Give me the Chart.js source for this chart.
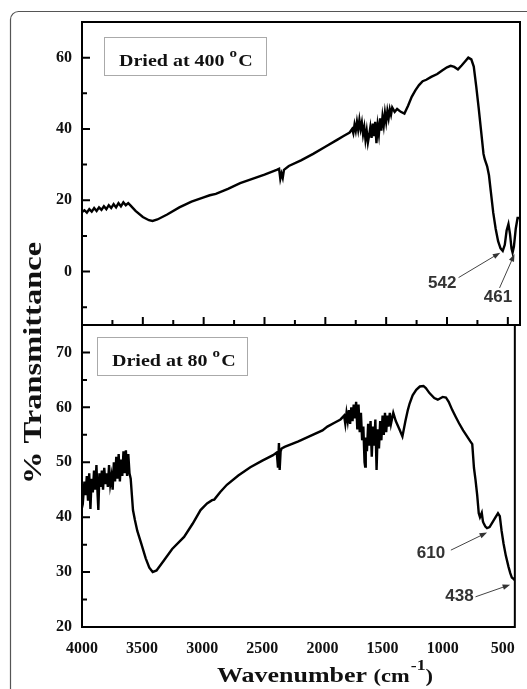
<!DOCTYPE html>
<html>
<head>
<meta charset="utf-8">
<script src="https://cdn.jsdelivr.net/npm/chart.js@4.4.1/dist/chart.umd.min.js"></script>
<style>
  body { margin: 0; background: #fff; }
  #wrap { position: relative; width: 527px; height: 689px; }
  canvas { position: absolute; left: 0; top: 0; }
</style>
</head>
<body>
<div id="wrap">
  <canvas id="chartTop" width="527" height="689"></canvas>
  <canvas id="chartBot" width="527" height="689"></canvas>
</div>
<script>
// FTIR spectrum, sample dried at 400 C (top panel)
var topWn = [4000,3980,3960,3940,3920,3900,3880,3860,3840,3820,3800,3780,3760,3740,3720,3700,3680,3660,3640,3620,3600,
  3560,3500,3450,3420,3380,3300,3200,3100,3000,2950,2900,2800,2700,2600,2500,2400,2380,2370,2360,2350,2340,2300,2200,2100,
  2000,1900,1850,1800,1780,1770,1760,1750,1740,1730,1720,1710,1700,1690,1680,1670,1660,1650,1640,1630,1620,1610,1600,1590,
  1580,1570,1560,1550,1540,1530,1520,1510,1500,1490,1480,1470,1460,1450,1430,1410,1380,1350,1320,1290,1260,1230,1200,1170,
  1130,1080,1040,1000,970,940,910,880,850,825,800,780,760,740,720,700,690,670,655,640,620,600,580,560,542,525,510,495,482,
  470,461,450,435,420,400];
var topT = [16.7,17.2,16.5,17.5,16.8,17.8,17.0,18.0,17.3,18.3,17.5,18.6,17.8,18.9,18.0,19.2,18.3,19.4,18.6,19.2,18.5,
  17.0,15.3,14.4,14.2,14.6,16.0,18.0,19.6,20.8,21.4,21.8,23.2,24.8,26.0,27.2,28.5,28.8,26.0,27.5,26.3,28.5,29.6,31.2,33.0,
  35.0,37.0,38.0,39.0,40.0,38.8,41.2,39.5,42.0,39.8,42.5,40.0,41.8,38.5,40.5,37.0,39.5,36.2,38.2,40.5,37.5,41.5,38.0,42.0,
  36.0,41.0,38.5,43.0,39.5,43.5,41.0,44.5,42.0,45.0,43.0,45.5,44.0,46.0,44.8,45.6,44.8,44.3,46.5,49.0,50.8,52.3,53.4,53.8,
  54.6,55.4,56.4,57.3,57.7,57.4,56.7,57.8,59.0,60.0,59.5,57.5,52.0,46.0,39.5,33.0,31.5,29.5,27.0,22.5,16.5,12.0,8.5,6.5,5.8,7.5,11.5,13.3,10.5,
  6.5,5.3,7.0,12.0,15.0,15.0];

// FTIR spectrum, sample dried at 80 C (bottom panel)
var botWn = [4000,3990,3980,3970,3960,3950,3940,3930,3920,3910,3900,3890,3880,3870,3864,3855,3845,3835,3825,3815,3805,
  3795,3785,3775,3765,3755,3745,3735,3725,3715,3705,3695,3685,3675,3665,3655,3645,3635,3625,3615,3605,3595,3585,3576,3560,
  3540,3507,3470,3440,3412,3380,3316,3250,3151,3080,3014,2960,2918,2900,2850,2795,2700,2600,2500,2411,2380,2370,2362,2356,
  2348,2340,2315,2200,2100,2000,1959,1900,1850,1820,1810,1800,1790,1780,1770,1760,1750,1740,1730,1720,1710,1700,1690,1680,
  1670,1660,1650,1645,1640,1630,1620,1610,1600,1590,1580,1570,1560,1550,1540,1530,1520,1510,1500,1490,1480,1470,1460,1450,
  1440,1430,1411,1390,1360,1335,1310,1290,1275,1250,1220,1190,1160,1140,1110,1070,1041,1000,973,950,920,890,864,830,800,
  770,754,740,727,713,700,690,675,665,659,645,631,610,590,560,540,525,510,494,475,453,438,425,412,400];
var botT = [44.9,43.5,46.5,44.0,47.5,43.0,48.0,41.5,47.0,44.5,48.5,45.0,49.5,44.0,41.3,48.0,45.5,48.5,45.0,49.0,46.0,
  48.0,45.5,49.5,46.0,47.5,45.0,50.0,46.5,51.0,47.0,51.5,46.5,50.5,47.5,52.0,48.0,52.2,47.5,51.5,48.0,47.0,44.0,41.3,39.5,
  37.5,35.2,32.5,30.8,30.0,30.3,32.2,34.2,36.4,38.8,41.3,42.5,43.1,43.2,44.6,45.9,47.6,49.1,50.3,51.3,51.8,49.0,53.5,48.6,
  52.0,52.5,52.8,53.8,54.8,55.8,56.5,57.2,57.8,58.5,57.0,59.0,57.5,59.5,57.0,60.0,57.5,60.5,58.0,61.0,56.0,60.5,55.5,59.0,
  54.0,56.5,50.0,49.2,54.5,52.0,57.0,53.0,57.5,51.0,56.5,53.0,57.8,48.6,56.0,52.5,57.5,54.0,58.5,55.0,59.0,55.5,58.5,56.5,
  59.0,57.0,59.0,57.5,56.0,54.7,57.5,59.5,60.7,62.2,63.2,63.8,63.9,63.5,62.6,61.7,61.4,61.9,61.8,61.0,59.5,58.2,57.1,55.8,54.8,
  53.8,53.3,49.0,46.8,44.0,40.7,40.0,40.8,39.2,38.9,38.3,38.0,38.2,38.9,40.0,40.7,40.2,37.5,35.2,33.0,31.0,29.8,29.0,28.8,28.5];

var xTicks = [4000,3500,3000,2500,2000,1500,1000,500];
var xMinor = [3750,3250,2750,2250,1750,1250,750];
var topYTicks = [0,20,40,60];
var topYMinor = [-10,10,30,50];
var botYTicks = [20,30,40,50,60,70];
var botYMinor = [25,35,45,55,65];
var peakLabels = ['542','461','610','438'];

var serif = '"Liberation Serif", "Times New Roman", serif';
var sans = '"Liberation Sans", Arial, sans-serif';

function toPoints(xs, ys) {
  return xs.map(function(v, i) { return {x: v, y: ys[i]}; });
}

function setTicks(list) {
  return function(scale) { scale.ticks = list.map(function(v) { return {value: v}; }); };
}

// frame + inward tick marks
function framePlugin(yMajor, yMinor, xUp) {
  return {
    id: 'frame',
    afterDraw: function(chart) {
      var ctx = chart.ctx, a = chart.chartArea, x = chart.scales.x, y = chart.scales.y;
      ctx.save();
      ctx.strokeStyle = '#000';
      ctx.lineWidth = 2;
      ctx.strokeRect(a.left, a.top, a.right - a.left, a.bottom - a.top);
      ctx.beginPath();
      yMajor.forEach(function(v) { var p = y.getPixelForValue(v); ctx.moveTo(a.left, p); ctx.lineTo(a.left + 8, p); });
      yMinor.forEach(function(v) { var p = y.getPixelForValue(v); ctx.moveTo(a.left, p); ctx.lineTo(a.left + 5, p); });
      if (xUp) {
        xTicks.forEach(function(v) { var p = x.getPixelForValue(v); ctx.moveTo(p, a.bottom); ctx.lineTo(p, a.bottom - 8); });
        xMinor.forEach(function(v) { var p = x.getPixelForValue(v); ctx.moveTo(p, a.bottom); ctx.lineTo(p, a.bottom - 5); });
      }
      ctx.stroke();
      ctx.restore();
    }
  };
}

function arrow(ctx, x1, y1, x2, y2) {
  var ang = Math.atan2(y2 - y1, x2 - x1);
  ctx.beginPath();
  ctx.moveTo(x1, y1);
  ctx.lineTo(x2 - 5 * Math.cos(ang), y2 - 5 * Math.sin(ang));
  ctx.stroke();
  ctx.beginPath();
  ctx.moveTo(x2, y2);
  ctx.lineTo(x2 - 8 * Math.cos(ang - 0.35), y2 - 8 * Math.sin(ang - 0.35));
  ctx.lineTo(x2 - 8 * Math.cos(ang + 0.35), y2 - 8 * Math.sin(ang + 0.35));
  ctx.closePath();
  ctx.fill();
}

// peak labels with arrows, anchored in data units
function peaksPlugin(items) {
  return {
    id: 'peaks',
    afterDraw: function(chart) {
      var ctx = chart.ctx, x = chart.scales.x, y = chart.scales.y;
      ctx.save();
      ctx.fillStyle = '#333';
      ctx.strokeStyle = '#444';
      ctx.lineWidth = 1;
      ctx.font = 'bold 17px ' + sans;
      ctx.textAlign = 'center';
      ctx.textBaseline = 'middle';
      items.forEach(function(it) {
        ctx.fillText(it.text, x.getPixelForValue(it.at[0]), y.getPixelForValue(it.at[1]));
        arrow(ctx, x.getPixelForValue(it.from[0]), y.getPixelForValue(it.from[1]),
          x.getPixelForValue(it.to[0]), y.getPixelForValue(it.to[1]));
      });
      ctx.restore();
    }
  };
}

// "Dried at ... oC" box
function boxPlugin(temp, bx, by, bw, bh) {
  return {
    id: 'box',
    afterDraw: function(chart) {
      var ctx = chart.ctx, a = chart.chartArea;
      var left = a.left + bx, top = a.top + by;
      ctx.save();
      ctx.strokeStyle = '#aaa';
      ctx.lineWidth = 1;
      ctx.strokeRect(left + 0.5, top + 0.5, bw, bh);
      ctx.translate(left + 15, top + bh - 9);
      ctx.scale(1.25, 1);
      ctx.fillStyle = '#111';
      ctx.textBaseline = 'alphabetic';
      ctx.font = 'bold 16px ' + serif;
      var s = 'Dried at ' + temp + ' ';
      ctx.fillText(s, 0, 0);
      var w = ctx.measureText(s).width;
      ctx.font = 'bold 12px ' + serif;
      ctx.fillText('o', w, -9);
      var w2 = ctx.measureText('o').width;
      ctx.font = 'bold 16px ' + serif;
      ctx.fillText('C', w + w2 + 1, 0);
      ctx.restore();
    }
  };
}

var titlesPlugin = {
  id: 'titles',
  afterDraw: function(chart) {
    var ctx = chart.ctx;
    ctx.save();
    // outer frame of the figure
    ctx.strokeStyle = '#555';
    ctx.lineWidth = 1.2;
    ctx.beginPath();
    ctx.moveTo(10.5, 689);
    ctx.lineTo(10.5, 19.5);
    ctx.arcTo(10.5, 11.5, 18.5, 11.5, 8);
    ctx.lineTo(527, 11.5);
    ctx.stroke();

    ctx.fillStyle = '#111';
    ctx.textBaseline = 'alphabetic';
    // x title
    ctx.save();
    ctx.translate(217, 682);
    ctx.scale(1.18, 1);
    ctx.font = 'bold 22px ' + serif;
    var t1 = 'Wavenumber ';
    ctx.fillText(t1, 0, 0);
    var w = ctx.measureText(t1).width;
    ctx.font = 'bold 19px ' + serif;
    ctx.fillText('(cm', w, 0);
    w += ctx.measureText('(cm').width;
    ctx.font = 'bold 15px ' + serif;
    ctx.fillText('-1', w + 1, -12);
    w += ctx.measureText('-1').width + 1;
    ctx.font = 'bold 19px ' + serif;
    ctx.fillText(')', w, 0);
    ctx.restore();
    // y title
    ctx.save();
    ctx.translate(41, 363);
    ctx.rotate(-Math.PI / 2);
    ctx.scale(1.3, 1);
    ctx.font = 'bold 25px ' + serif;
    ctx.textAlign = 'center';
    ctx.fillText('% Transmittance', 0, 0);
    ctx.restore();
    ctx.restore();
  }
};

function lineDataset(xs, ys) {
  return {
    data: toPoints(xs, ys),
    borderColor: '#000',
    borderWidth: 2.4,
    pointRadius: 0,
    tension: 0,
    fill: false
  };
}

var tickFont = {family: serif, size: 16, weight: 'bold'};
var plainLabel = function(v) { return String(v); };

new Chart(document.getElementById('chartTop'), {
  type: 'line',
  data: {datasets: [lineDataset(topWn, topT)]},
  options: {
    responsive: false,
    animation: false,
    layout: {padding: {left: 10, right: 7, top: 22, bottom: 364}},
    plugins: {legend: {display: false}, tooltip: {enabled: false}},
    scales: {
      x: {type: 'linear', reverse: true, min: 400, max: 4000, display: false},
      y: {
        min: -15, max: 70,
        afterBuildTicks: setTicks(topYTicks),
        afterFit: function(s) { s.width = 72; },
        grid: {display: false, drawTicks: false},
        border: {display: false},
        ticks: {font: tickFont, color: '#111', padding: 10, callback: plainLabel}
      }
    }
  },
  plugins: [framePlugin(topYTicks, topYMinor, true),
    boxPlugin('400', 22, 15, 162, 38),
    peaksPlugin([
      {text: peakLabels[0], at: [1039, -3.2], from: [905, -1.7], to: [562, 5.3]},
      {text: peakLabels[1], at: [581, -7.2], from: [568, -4.6], to: [445, 4.9]}
    ])]
});

new Chart(document.getElementById('chartBot'), {
  type: 'line',
  data: {datasets: [lineDataset(botWn, botT)]},
  options: {
    responsive: false,
    animation: false,
    layout: {padding: {left: 10, right: 7, top: 325, bottom: 32}},
    plugins: {legend: {display: false}, tooltip: {enabled: false}},
    scales: {
      x: {
        type: 'linear', reverse: true, min: 400, max: 4000,
        afterBuildTicks: setTicks(xTicks),
        afterFit: function(s) { s.height = 30; },
        grid: {display: false, drawTicks: false},
        border: {display: false},
        ticks: {font: tickFont, color: '#111', padding: 12, maxRotation: 0, autoSkip: false, callback: plainLabel}
      },
      y: {
        min: 20, max: 75,
        afterBuildTicks: setTicks(botYTicks),
        afterFit: function(s) { s.width = 72; },
        grid: {display: false, drawTicks: false},
        border: {display: false},
        ticks: {font: tickFont, color: '#111', padding: 10, callback: plainLabel}
      }
    }
  },
  plugins: [framePlugin(botYTicks, botYMinor, false),
    boxPlugin('80', 15, 12, 150, 38),
    peaksPlugin([
      {text: peakLabels[2], at: [1097, 33.4], from: [932, 34], to: [631, 37.2]},
      {text: peakLabels[3], at: [861, 25.5], from: [727, 25.5], to: [439, 27.7]}
    ]),
    titlesPlugin]
});
</script>
</body>
</html>
